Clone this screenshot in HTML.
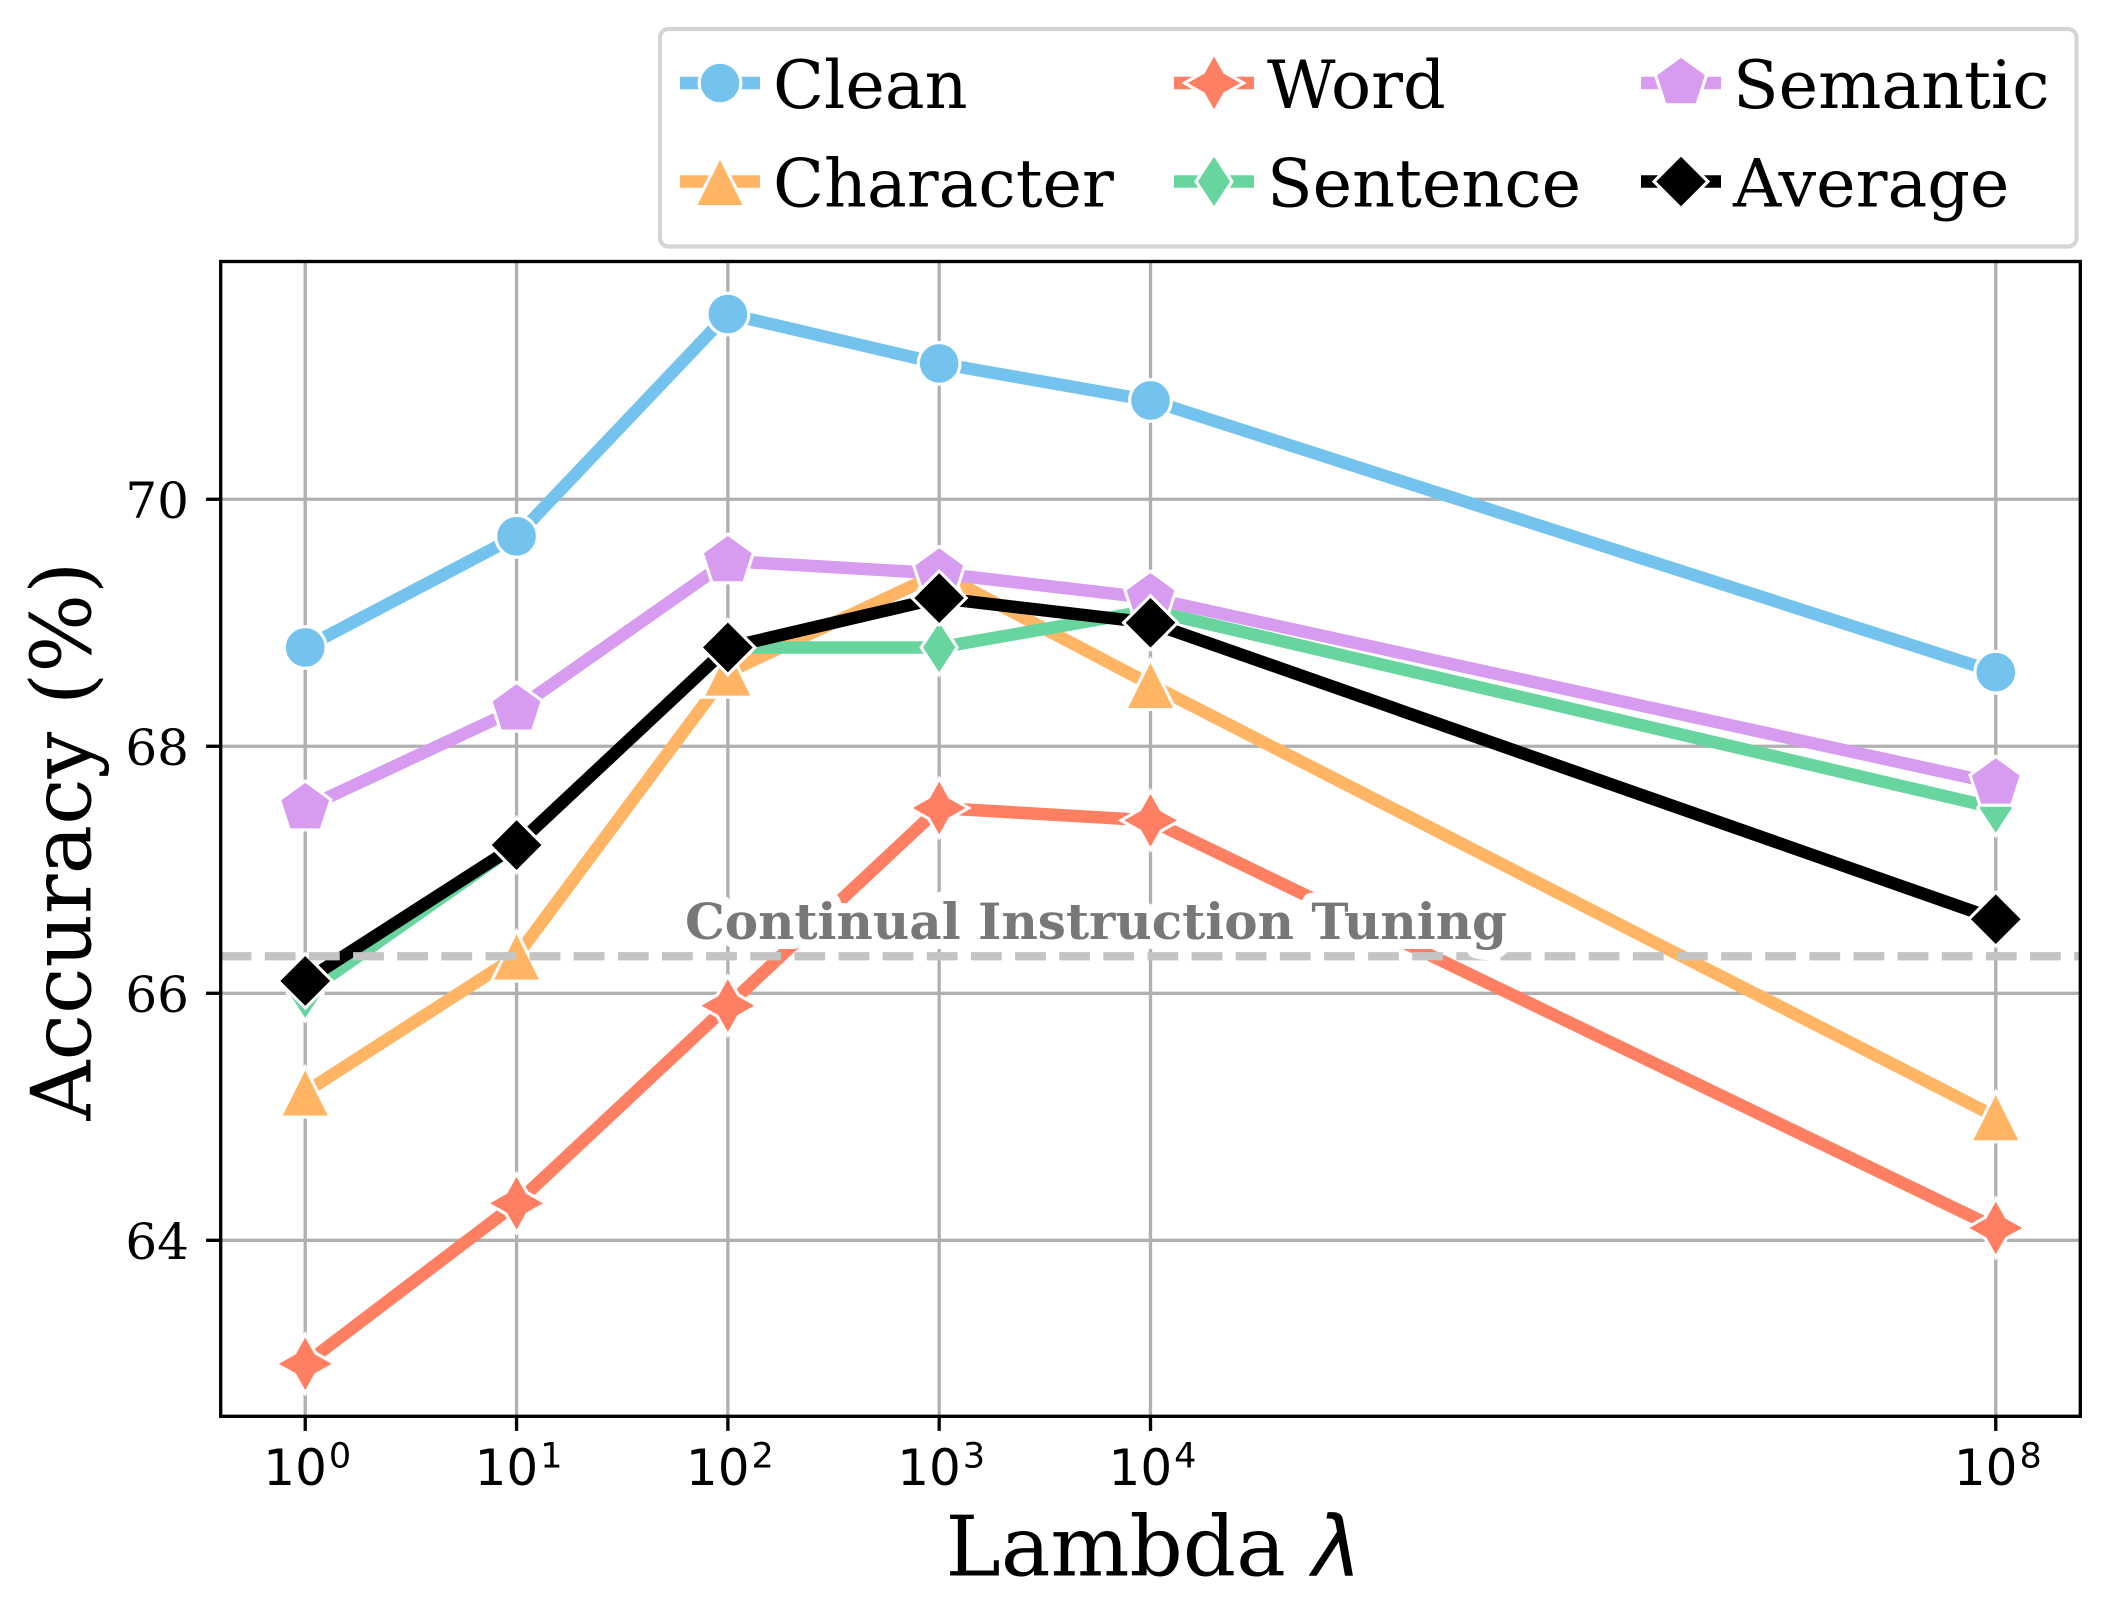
<!DOCTYPE html>
<html lang="en">
<head>
<meta charset="utf-8">
<title>Accuracy vs Lambda</title>
<style>
html,body{margin:0;padding:0;background:#fff;}
svg{display:block;}
text{font-family:"DejaVu Serif","Liberation Serif",serif;fill:#000;}
.math{font-family:"DejaVu Sans","Liberation Sans",sans-serif;}
</style>
</head>
<body>
<svg id="chart" xmlns="http://www.w3.org/2000/svg" width="2110" height="1622" viewBox="0 0 2110 1622">
  <rect x="0" y="0" width="2110" height="1622" fill="#ffffff"/>
  <g id="grid"></g>
  <g id="series"></g>
  <g id="refline"></g>
  <text x="1096" y="939" text-anchor="middle" font-size="50" font-weight="bold" style="fill:#787878;stroke:#ffffff;stroke-width:20px;stroke-linejoin:round;paint-order:stroke fill;">Continual Instruction Tuning</text>
  <g id="axes"></g>
  <text transform="translate(90.5 841) rotate(-90)" text-anchor="middle" font-size="83">Accuracy (%)</text>
  <text x="945.5" y="1575.5" font-size="83.3">Lambda <tspan class="math" font-style="italic" style="font-family:'DejaVu Sans',sans-serif">λ</tspan></text>
  <g id="legend">
    <rect x="660" y="29" width="1416.5" height="217.5" rx="8.5" ry="8.5" fill="#ffffff" stroke="#d5d5d5" stroke-width="4.2"/>
  </g>
</svg>
<script>
// ---- chart data ----
const lambdas = [1, 10, 100, 1000, 10000, 100000000];
const xTickExponents = ["0", "1", "2", "3", "4", "8"];
const yTicks = [64, 66, 68, 70];
const seriesNames = ["Clean", "Character", "Word", "Sentence", "Semantic", "Average"];
const clean = [68.8, 69.7, 71.5, 71.1, 70.8, 68.6];
const character = [65.2, 66.3, 68.6, 69.4, 68.5, 65.0];
const word = [63.0, 64.3, 65.9, 67.5, 67.4, 64.1];
const sentence = [66.0, 67.2, 68.8, 68.8, 69.1, 67.5];
const semantic = [67.5, 68.3, 69.5, 69.4, 69.2, 67.7];
const average = [66.1, 67.2, 68.8, 69.2, 69.0, 66.6];
const referenceValue = 66.3;
const xDomain = [-0.4, 8.4];
const yDomain = [62.575, 71.925];

// ---- layout and axis functions ----
const NS = "http://www.w3.org/2000/svg";
const plotBox = { left: 220.7, right: 2080.3, top: 261.5, bottom: 1416.3 };
function xScale(lambda) {
  const e = Math.log10(lambda);
  return plotBox.left + (e - xDomain[0]) / (xDomain[1] - xDomain[0]) * (plotBox.right - plotBox.left);
}
function yScale(v) {
  return plotBox.bottom - (v - yDomain[0]) / (yDomain[1] - yDomain[0]) * (plotBox.bottom - plotBox.top);
}
function make(tag, attrs, parent) {
  const el = document.createElementNS(NS, tag);
  for (const k in attrs) el.setAttribute(k, attrs[k]);
  parent.appendChild(el);
  return el;
}
function polyPoints(points, cx, cy) {
  return points.map(p => (cx + p[0]).toFixed(2) + "," + (cy + p[1]).toFixed(2)).join(" ");
}
function regularPoly(n, r) {
  const out = [];
  for (let i = 0; i < n; i++) {
    const a = -Math.PI / 2 + i * 2 * Math.PI / n;
    out.push([r * Math.cos(a), r * Math.sin(a)]);
  }
  return out;
}
function starPoly(n, r, inner) {
  const out = [];
  for (let i = 0; i < 2 * n; i++) {
    const a = -Math.PI / 2 + i * Math.PI / n;
    const rr = i % 2 === 0 ? r : inner;
    out.push([rr * Math.cos(a), rr * Math.sin(a)]);
  }
  return out;
}
const markerShapes = {
  Clean: null,
  Character: [[0, -25], [-25, 25], [25, 25]],
  Word: starPoly(4, 29.5, 15),
  Sentence: [[0, -27.5], [-18, 0], [0, 27.5], [18, 0]],
  Semantic: regularPoly(5, 27),
  Average: [[0, -27], [-27, 0], [0, 27], [27, 0]]
};
const seriesColors = {
  Clean: "#74c3ee",
  Character: "#ffb563",
  Word: "#ff7f62",
  Sentence: "#68d59f",
  Semantic: "#d79bf0",
  Average: "#000000"
};
const seriesValues = {
  Clean: clean, Character: character, Word: word,
  Sentence: sentence, Semantic: semantic, Average: average
};
function drawMarker(parent, name, cx, cy) {
  const style = { fill: seriesColors[name], stroke: "#ffffff", "stroke-width": 3.1, "stroke-miterlimit": 12 };
  let el;
  if (markerShapes[name] === null) {
    el = make("circle", Object.assign({ cx: cx, cy: cy, r: 20.85 }, style), parent);
  } else {
    el = make("polygon", Object.assign({ points: polyPoints(markerShapes[name], cx, cy) }, style), parent);
  }
  return el;
}

// ---- grid ----
const gridG = document.getElementById("grid");
lambdas.forEach(function (l) {
  const line = make("line", { x1: xScale(l), x2: xScale(l), y1: plotBox.top, y2: plotBox.bottom, stroke: "#b0b0b0", "stroke-width": 3.33 }, gridG);
  
  
});
yTicks.forEach(function (t) {
  const line = make("line", { x1: plotBox.left, x2: plotBox.right, y1: yScale(t), y2: yScale(t), stroke: "#b0b0b0", "stroke-width": 3.33 }, gridG);
  
  
});

// ---- series ----
const seriesG = document.getElementById("series");
seriesNames.forEach(function (name) {
  const vals = seriesValues[name];
  const g = make("g", {}, seriesG);
  
  
  const pts = vals.map((v, i) => xScale(lambdas[i]).toFixed(2) + "," + yScale(v).toFixed(2)).join(" ");
  const pl = make("polyline", { points: pts, fill: "none", stroke: seriesColors[name], "stroke-width": 12.5, "stroke-linejoin": "round", "stroke-linecap": "butt" }, g);
  
  
  vals.forEach(function (v, i) {
    const m = drawMarker(g, name, xScale(lambdas[i]), yScale(v));
    
    
  });
});

// ---- reference line ----
const refG = document.getElementById("refline");
const refLine = make("line", { x1: plotBox.left, x2: plotBox.right, y1: yScale(referenceValue), y2: yScale(referenceValue), stroke: "#c4c4c4", "stroke-width": 8.33, "stroke-dasharray": "30.8 13.33" }, refG);



// ---- axes, ticks, tick labels ----
const axesG = document.getElementById("axes");
const frame = make("rect", { x: plotBox.left, y: plotBox.top, width: plotBox.right - plotBox.left, height: plotBox.bottom - plotBox.top, fill: "none", stroke: "#000000", "stroke-width": 3.33 }, axesG);


lambdas.forEach(function (l, i) {
  const x = xScale(l);
  const tick = make("line", { x1: x, x2: x, y1: plotBox.bottom, y2: plotBox.bottom + 14.6, stroke: "#000000", "stroke-width": 3.33 }, axesG);
  
  
  const label = make("text", { x: x + 2, y: 1485, "text-anchor": "middle", "font-size": 50, "class": "math" }, axesG);
  
  
  const base = make("tspan", {}, label);
  base.textContent = "10";
  const sup = make("tspan", { dy: -17.5, dx: 2, "font-size": 35 }, label);
  sup.textContent = xTickExponents[i];
});
yTicks.forEach(function (t) {
  const y = yScale(t);
  const tick = make("line", { x1: plotBox.left, x2: plotBox.left - 14.6, y1: y, y2: y, stroke: "#000000", "stroke-width": 3.33 }, axesG);
  
  
  const label = make("text", { x: 189, y: y + 18.8, "text-anchor": "end", "font-size": 50 }, axesG);
  
  
  label.textContent = String(t);
});

// ---- legend ----
const legendG = document.getElementById("legend");
const legendCols = [720, 1214, 1681];
const legendTextX = [773, 1267, 1733];
const legendRows = [83, 181.5];
seriesNames.forEach(function (name, i) {
  const col = Math.floor(i / 2);
  const row = i % 2;
  const cx = legendCols[col];
  const cy = legendRows[row];
  const g = make("g", {}, legendG);
  
  
  const line = make("line", { x1: cx - 40, x2: cx + 40, y1: cy, y2: cy, stroke: seriesColors[name], "stroke-width": 12.5 }, g);
  
  
  const m = drawMarker(g, name, cx, cy);
  
  
  const t = make("text", { x: legendTextX[col], y: cy + 25, "font-size": 66.7 }, g);
  
  
  t.textContent = name;
});
</script>
</body>
</html>
